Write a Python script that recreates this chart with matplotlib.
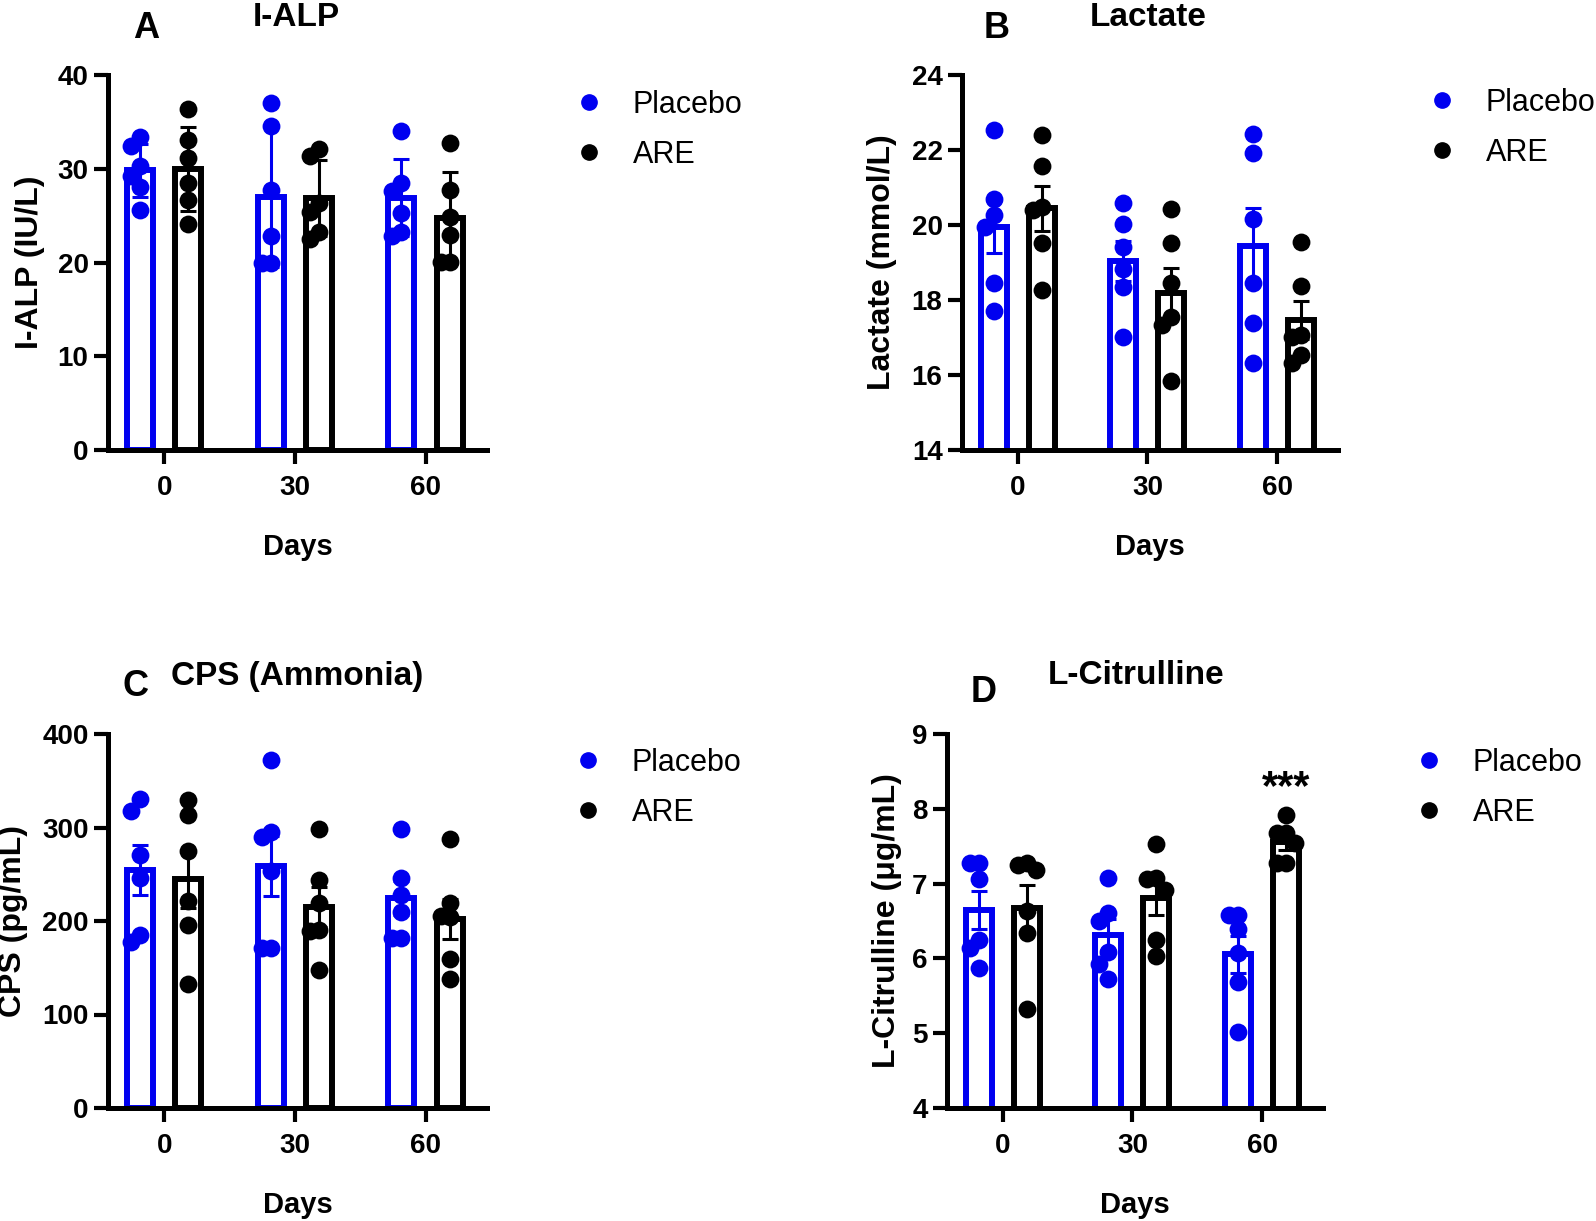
import matplotlib
matplotlib.use("Agg")
import matplotlib.pyplot as plt
import numpy as np
from matplotlib.lines import Line2D

plt.rcParams["font.family"] = ["Liberation Sans", "DejaVu Sans"]

days = ["0", "30", "60"]
groups = ["Placebo", "ARE"]

# individual animals, one list per day (0, 30, 60)
ialp_placebo = [[33.4, 32.4, 30.3, 29.2, 28.1, 25.6],
                [37.0, 34.6, 27.7, 22.8, 19.9, 19.9],
                [34.0, 28.5, 27.6, 25.3, 23.3, 22.8]]
ialp_are = [[36.4, 33.1, 31.1, 28.5, 26.7, 24.1],
            [32.1, 31.4, 26.3, 25.4, 23.3, 22.5],
            [32.8, 27.7, 24.9, 22.9, 20.1, 20.1]]
lactate_placebo = [[22.53, 20.70, 20.26, 19.96, 18.46, 17.72],
                   [20.60, 20.03, 19.42, 18.84, 18.34, 17.02],
                   [22.43, 21.93, 20.16, 18.46, 17.40, 16.31]]
lactate_are = [[22.40, 21.57, 20.49, 20.40, 19.53, 18.27],
               [20.44, 19.51, 18.46, 17.56, 17.33, 15.85],
               [19.54, 18.37, 17.07, 17.02, 16.53, 16.31]]
cps_placebo = [[330.5, 317.3, 271.0, 246.0, 185.4, 177.2],
               [372.5, 294.8, 289.8, 253.1, 171.1, 171.1],
               [298.4, 246.0, 228.2, 209.3, 181.8, 181.8]]
cps_are = [[329.1, 313.7, 274.5, 221.0, 196.1, 133.0],
           [298.4, 243.5, 219.3, 190.7, 188.9, 147.9],
           [287.7, 219.3, 205.7, 204.3, 159.4, 138.0]]
citr_placebo = [[7.27, 7.27, 7.06, 6.25, 6.14, 5.87],
                [7.07, 6.61, 6.50, 6.09, 5.92, 5.72],
                [6.58, 6.58, 6.39, 6.07, 5.69, 5.02]]
citr_are = [[7.27, 7.25, 7.18, 6.64, 6.34, 5.33],
            [7.53, 7.07, 7.06, 6.91, 6.25, 6.03],
            [7.92, 7.68, 7.67, 7.54, 7.27, 7.27]]

BLUE = "#0000f0"
BLACK = "#000000"
W, H = 1596, 1221


def swarm(vals, px_per_unit, step=0.07, diam=14.0):
    """Simple column swarm: shift a dot sideways when it would sit on another."""
    placed = []
    offs = []
    for v in vals:
        for cand in [0, -step, step, -2 * step, 2 * step]:
            if all(abs(v - pv) * px_per_unit >= diam or abs(cand - po) > 1e-9
                   for pv, po in placed):
                break
        placed.append((v, cand))
        offs.append(cand)
    return np.array(offs)


def draw_panel(ax, placebo, are, ylim, yticks, err="sem"):
    x = np.arange(len(days))
    ax.set_xlim(-0.43, 2.47)
    ax.set_ylim(*ylim)
    px_per_unit = ax.bbox.height / (ylim[1] - ylim[0])
    for data, color, off in [(placebo, BLUE, -0.185), (are, BLACK, 0.185)]:
        arr = np.array(data)
        means = arr.mean(axis=1)
        sd = arr.std(axis=1, ddof=1)
        e = sd if err == "sd" else sd / np.sqrt(arr.shape[1])
        ax.bar(x + off, means, width=0.2, facecolor="white", edgecolor=color,
               linewidth=4.3, zorder=2)
        ax.errorbar(x + off, means, yerr=e, fmt="none", ecolor=color,
                    elinewidth=2.2, capsize=6, capthick=2.2, zorder=3)
        for i, vals in enumerate(data):
            jit = swarm(vals, px_per_unit)
            ax.scatter(x[i] + off + jit, vals, s=165, color=color,
                       linewidths=0, zorder=4)
    ax.set_xticks(x)
    ax.set_xticklabels(days)
    ax.set_yticks(yticks)
    for s in ["top", "right"]:
        ax.spines[s].set_visible(False)
    for s in ["left", "bottom"]:
        ax.spines[s].set_linewidth(3.6)
    ax.tick_params(axis="both", width=3, length=10, labelsize=20)
    ax.tick_params(axis="y", pad=4)
    ax.tick_params(axis="x", pad=8)
    for lab in ax.get_xticklabels() + ax.get_yticklabels():
        lab.set_fontweight("bold")
    ax.set_xlabel("Days", fontsize=21, fontweight="bold", va="top")
    ax.xaxis.set_label_coords(0.5, -0.221)


fig = plt.figure(figsize=(W / 100, H / 100), dpi=100)

# (left px, top px, right px, bottom px)
panels = [
    dict(box=(108, 75, 487, 450), data=(ialp_placebo, ialp_are), ylim=(0, 40),
         yticks=[0, 10, 20, 30, 40], err="sd", ylabel="I-ALP (IU/L)", ylx=45,
         letter="A", letter_xy=(146, 28), title="I-ALP", title_xy=(296, 17),
         leg_xy=(589, 102)),
    dict(box=(962, 75, 1338, 450), data=(lactate_placebo, lactate_are), ylim=(14, 24),
         yticks=[14, 16, 18, 20, 22, 24], err="sem", ylabel="Lactate (mmol/L)", ylx=897,
         letter="B", letter_xy=(997, 28), title="Lactate", title_xy=(1148, 17),
         leg_xy=(1442, 100)),
    dict(box=(108, 734, 487, 1108), data=(cps_placebo, cps_are), ylim=(0, 400),
         yticks=[0, 100, 200, 300, 400], err="sem", ylabel="CPS (pg/mL)", ylx=28,
         letter="C", letter_xy=(136, 686), title="CPS (Ammonia)", title_xy=(297, 677),
         leg_xy=(588, 760)),
    dict(box=(947, 734, 1323, 1108), data=(citr_placebo, citr_are), ylim=(4, 9),
         yticks=[4, 5, 6, 7, 8, 9], err="sem", ylabel="L-Citrulline (\u03bcg/mL)", ylx=902,
         letter="D", letter_xy=(984, 692), title="L-Citrulline", title_xy=(1136, 676),
         leg_xy=(1429, 760)),
]

for p in panels:
    l, t, r, b = p["box"]
    ax = fig.add_axes([l / W, 1 - b / H, (r - l) / W, (b - t) / H])
    draw_panel(ax, p["data"][0], p["data"][1], p["ylim"], p["yticks"], p["err"])
    ax.set_ylabel(p["ylabel"], fontsize=23, fontweight="bold")
    ax.yaxis.set_label_coords((p["ylx"] - l) / (r - l), 0.5)

    lx, ly = p["letter_xy"]
    fig.text(lx / W, 1 - ly / H, p["letter"], fontsize=26, fontweight="bold",
             ha="center", va="center")
    tx, ty = p["title_xy"]
    fig.text(tx / W, 1 - ty / H, p["title"], fontsize=24, fontweight="bold",
             ha="center", va="center")

    handles = [Line2D([], [], marker="o", ls="", color=c, markersize=11)
               for c in (BLUE, BLACK)]
    gx, gy = p["leg_xy"]
    ax.legend(handles, groups, loc="upper left", frameon=False, fontsize=22,
              handlelength=1.0, handletextpad=0.94, borderpad=0, borderaxespad=0,
              labelspacing=0.64,
              bbox_to_anchor=((gx - 15.3) / W, 1 - (gy - 12) / H),
              bbox_transform=fig.transFigure)

    if p["letter"] == "D":
        ax.text(2 + 0.185, 8.13, "***", fontsize=30, fontweight="bold",
                ha="center", va="baseline")

fig.savefig("out.png", dpi=100)
